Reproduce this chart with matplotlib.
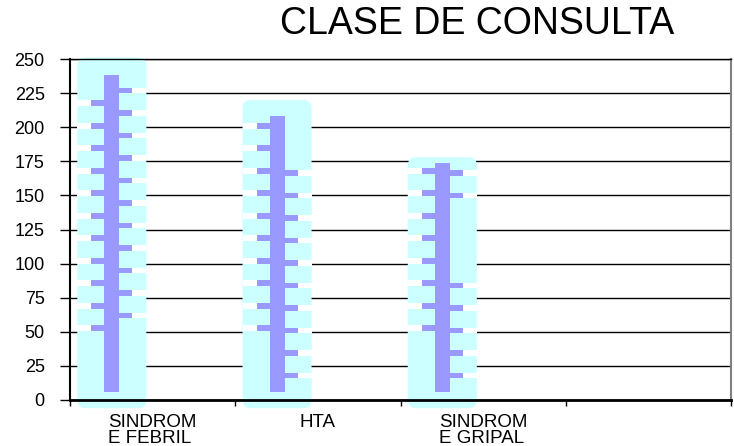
import matplotlib
matplotlib.use("Agg")
import matplotlib.pyplot as plt
from matplotlib.patches import FancyBboxPatch, Rectangle
import numpy as np

# ---- data ----
categorias = ["SINDROM\nE FEBRIL", "HTA", "SINDROM\nE GRIPAL", ""]
valores = [238, 208, 174]          # inner (purple) columns
contorno = [251, 220, 178]         # outer (cyan) column tops
yticks = [0, 25, 50, 75, 100, 125, 150, 175, 200, 225, 250]
titulo = "CLASE DE CONSULTA"

# ---- style ----
CYAN = "#CCFFFF"
PURPLE = "#9999FF"
FONT = ["Liberation Sans", "DejaVu Sans"]
plt.rcParams["font.family"] = FONT

W, H = 734, 446
fig = plt.figure(figsize=(W / 100, H / 100), dpi=100)
ax = fig.add_axes([70 / W, 1 - 400 / H, 661 / W, 341 / H])
ax.set_xlim(-0.5, 3.5)
ax.set_ylim(0, 250)

offset = -0.247      # left shift of the columns within their slot
half_outer = 0.209
inner_w = 0.091
tooth = 0.124
base_outer = -6
base_inner = 6
step = 16.5
left_start = [52.5, 52.5, 52.5]
right_start = [62, 18, 18]
right_stop = [None, 170, None]
right_skip = [None, None, (90, 145)]

pos = np.arange(len(valores)) + offset

# outer rounded cyan columns
for c, top in zip(pos, contorno):
    p = FancyBboxPatch((c - half_outer, base_outer), 2 * half_outer, top - base_outer,
                       boxstyle="round,pad=0,rounding_size=0.05", mutation_aspect=118,
                       fc=CYAN, ec="none", zorder=1, clip_on=False)
    ax.add_patch(p)

# teeth (gaps in cyan + purple stubs)
for i, (c, v) in enumerate(zip(pos, valores)):
    for y in np.arange(left_start[i], v - 5, step):
        ax.add_patch(Rectangle((c - half_outer, y - 2.2), half_outer - inner_w / 2, 4.4,
                               fc="white", ec="none", zorder=2))
        ax.add_patch(Rectangle((c - tooth, y - 2.2), tooth, 4.4, fc=PURPLE, ec="none", zorder=3))
    stop = right_stop[i] if right_stop[i] is not None else v - 5
    for y in np.arange(right_start[i], stop, step):
        if right_skip[i] is not None and right_skip[i][0] < y < right_skip[i][1]:
            continue
        ax.add_patch(Rectangle((c + inner_w / 2, y - 2), half_outer - inner_w / 2, 4,
                               fc="white", ec="none", zorder=2))
        ax.add_patch(Rectangle((c, y - 2), tooth, 4, fc=PURPLE, ec="none", zorder=3))

# inner purple columns
ax.bar(pos, np.array(valores) - base_inner, bottom=base_inner, width=inner_w,
       color=PURPLE, zorder=4)

# grid
ax.set_axisbelow(True)
ax.yaxis.grid(True, color="black", lw=1.0, zorder=0)

# y axis
ax.set_yticks(yticks)
ax.tick_params(axis="y", direction="out", length=7.2, width=1, pad=11, labelsize=13)

# x axis: boundary ticks + centered category labels
ax.set_xticks([-0.5, 0.5, 1.5, 2.5, 3.5])
ax.set_xticklabels([""] * 5)
ax.tick_params(axis="x", which="major", direction="out", length=4.5, width=1)
ax.set_xticks([0, 1, 2, 3], minor=True)
ax.set_xticklabels(categorias, minor=True)
ax.tick_params(axis="x", which="minor", length=0, pad=10, labelsize=13.5)
for t in ax.get_xticklabels(minor=True):
    t.set_multialignment("left")
    t.set_linespacing(0.95)

ax.spines["left"].set_linewidth(1.5)
ax.spines["bottom"].set_linewidth(2)
ax.spines["top"].set_linewidth(1)
ax.spines["right"].set_color("#808080")
ax.spines["right"].set_linewidth(1.5)

fig.text(477 / W, 1 - 34 / H, titulo, ha="center", va="baseline", fontsize=27)

fig.savefig("out.png", dpi=100)
